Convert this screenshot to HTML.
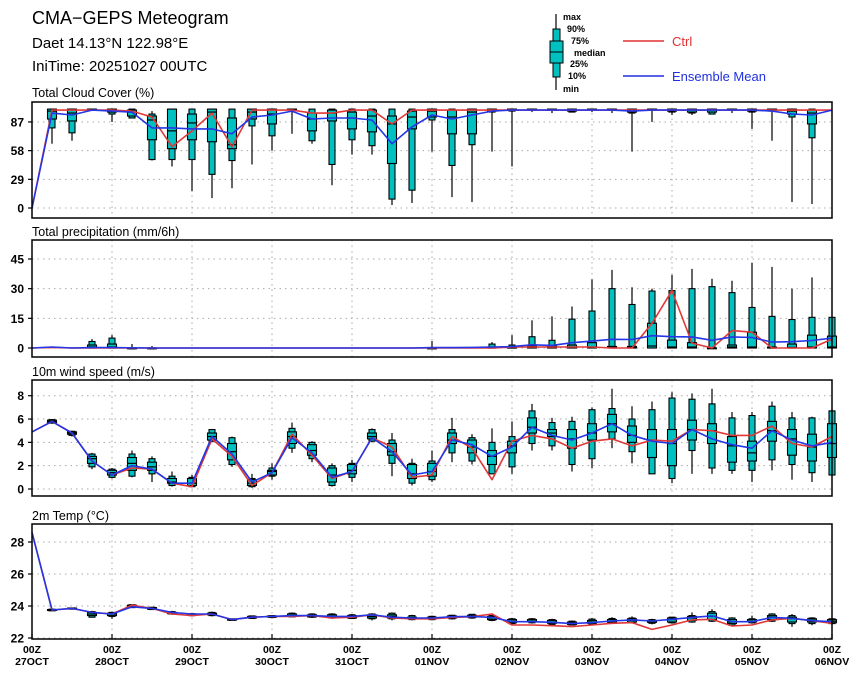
<!DOCTYPE html>
<html><head><meta charset="utf-8"><style>
html,body{margin:0;padding:0;background:#fff;}
svg{display:block;font-family:"Liberation Sans",sans-serif;}
</style></head><body>
<svg id="chart" width="860" height="678" viewBox="0 0 860 678" xmlns="http://www.w3.org/2000/svg">
<text x="32" y="24" font-size="18" fill="#000">CMA−GEPS Meteogram</text>
<text x="32" y="48" font-size="15" fill="#000">Daet 14.13°N 122.98°E</text>
<text x="32" y="71" font-size="15" fill="#000">IniTime: 20251027 00UTC</text>
<g>
<line x1="556" y1="14" x2="556" y2="90" stroke="#000" stroke-width="1.2"/>
<rect x="553" y="29" width="7" height="48" fill="#00c0c0" stroke="#000"/>
<rect x="550" y="41" width="13" height="22" fill="#00c0c0" stroke="#000"/>
<line x1="550" y1="52" x2="563" y2="52" stroke="#000"/>
<g font-size="9" font-weight="bold">
<text x="563" y="20">max</text><text x="567" y="32">90%</text><text x="571" y="44">75%</text>
<text x="574" y="56">median</text><text x="570" y="67">25%</text><text x="568" y="79">10%</text><text x="563" y="92">min</text>
</g>
<line x1="623" y1="41" x2="664" y2="41" stroke="#e03030" stroke-width="1.5"/>
<text x="672" y="46" font-size="13" fill="#e03030">Ctrl</text>
<line x1="623" y1="76" x2="664" y2="76" stroke="#2030e0" stroke-width="1.5"/>
<text x="672" y="81" font-size="13" fill="#2030e0">Ensemble Mean</text>
</g>
</svg>
<script>
// ---- data ----
const dayLabels=["27OCT","28OCT","29OCT","30OCT","31OCT","01NOV","02NOV","03NOV","04NOV","05NOV","06NOV"];
const cloudTicks=[0,29,58,87];
const precipTicks=[0,15,30,45];
const windTicks=[0,2,4,6,8];
const tempTicks=[22,24,26,28];

const cloudCtrl=[0,99,99,99,99,98,92,62,78,96,62,99,99,99,96,96,99,99,85,99,99,99,99,99,99,99,99,99,99,99,99,99,99,99,99,99,99,99,99,99,99];
const cloudMean=[0,96,94,99,98,97,81,81,80,80,75,92,94,98,90,91,91,89,65,82,94,90,94,98,99,99,99,99,99,99,98,99,99,99,99,99,99,98,95,94,99];
const cloudBox=[null,[65,81,90,98,100,100,100],[68,76,88,96,100,100,100],[98,99,99,100,100,100,100],[87,95,97,99,100,100,100],[91,91,93,97,99,100,100],[48,49,69,89,93,95,98],[42,49,60,78,100,100,100],[17,49,69,86,95,100,100],[10,34,67,97,100,100,100],[20,48,60,64,91,100,100],[44,83,90,97,100,100,100],[58,73,85,95,100,100,100],[75,99,100,100,100,100,100],[65,68,78,90,96,100,100],[23,44,88,96,99,100,100],[54,69,80,91,97,100,100],[54,63,77,93,99,100,100],[3,9,45,85,93,100,100],[5,18,80,92,98,100,100],[57,89,92,98,100,100,100],[11,43,75,92,99,100,100],[6,64,75,97,100,100,100],[57,97,98,99,100,100,100],[42,98,99,100,100,100,100],[97,99,100,100,100,100,100],[96,99,100,100,100,100,100],[97,97,98,99,100,100,100],[97,99,100,100,100,100,100],[96,99,100,100,100,100,100],[57,96,97,98,100,100,100],[87,99,100,100,100,100,100],[94,97,98,99,100,100,100],[94,96,97,99,100,100,100],[95,95,97,99,100,100,100],[96,99,100,100,100,100,100],[80,97,98,99,100,100,100],[68,98,99,100,100,100,100],[6,92,95,98,100,100,100],[4,71,85,96,99,100,100],null];

const precipCtrl=[0,0.3,0,0,0,0,0,0,0,0,0,0,0,0,0,0,0,0,0,0,0,0,0,0,0.5,0.5,0.5,0.5,0.5,0,0,12.5,29,2.5,0,8.8,8,0,0,0,4.5];
const precipMean=[0,0.5,0,0.2,0.2,0.1,0,0,0,0,0,0,0,0,0,0,0,0,0,0,0.2,0.2,0.3,0.5,0.7,1.6,1.3,2.7,3.5,4.4,4.3,6.2,5.7,5.6,3.9,5.6,5.3,3,3.2,3.8,5];
const precipBox=[null,null,null,[0,0,0,0.5,1.5,3.3,4.5],[0,0,0,0.5,2,5,6.5],[0,0,0,0,0,0,2],[0,0,0,0,0,0,1],null,null,null,null,null,null,null,null,null,null,null,null,null,[0,0,0,0,0,0,3.5],null,null,[0,0,0,0,0.5,2,3],[0,0,0,0,0.5,1.5,6.5],[0,0,0,0.3,1,5.7,14],[0,0,0,0.3,1,3.9,16],[0,0,0,0.3,1.5,14.6,21],[0,0,0,0.5,2.7,18.7,34.7],[0,0,0,0.2,0.8,30,39.5],[0,0,0,0.2,0.8,22,30.7],[0,0,0,1,12.5,28.8,30],[0,0,0,0.5,4,29,37],[0,0,0,0.5,2.7,30,40],[0,0,0,0,0,31,35],[0,0,0,0.5,1.5,28,34],[0,0,0,0.5,8,20.5,43],[0,0,0,0,0.5,16,41],[0,0,0,0.3,2,14.4,30],[0,0,0,0.5,6.5,15.5,35.7],[0,0,0,0.5,6,15.5,15.5]];

const windCtrl=[4.9,5.8,4.8,2.4,1.2,1.8,1.7,0.5,0.2,4.3,2.8,0.3,1.4,4.7,2.9,0.9,1.5,4.4,3.6,1.0,1.2,4.5,3.5,0.8,4.1,4.6,4.3,3.5,4.1,4.3,3.7,4.2,4.1,5.1,5.0,4.6,4.6,5.4,3.9,3.6,4.5];
const windMean=[4.9,5.8,4.8,2.4,1.2,2.0,1.7,0.5,0.5,4.5,3.0,0.6,1.4,4.4,3.1,1.0,1.5,4.4,3.2,1.2,1.5,4.2,3.8,2.8,3.6,5.3,4.6,4.2,4.8,5.6,4.6,4.1,3.9,5.1,4.3,3.8,3.5,5.0,4.2,3.7,4.0];
const windBox=[null,[5.6,5.65,5.7,5.8,5.9,5.95,6.0],[4.5,4.6,4.7,4.8,4.9,4.95,5.0],[1.7,1.9,2.2,2.6,2.8,3.0,3.1],[0.9,1.0,1.2,1.4,1.6,1.7,1.8],[1.0,1.1,1.6,2.2,2.7,3.0,3.3],[0.6,1.3,1.6,1.9,2.3,2.6,2.8],[0.2,0.3,0.5,0.6,0.9,1.1,1.5],[0.2,0.2,0.3,0.5,0.9,1.0,1.2],[4.0,4.1,4.2,4.5,4.8,5.1,5.1],[1.9,2.1,2.5,3.2,3.9,4.4,4.5],[0.1,0.2,0.3,0.5,0.8,0.9,1.3],[0.8,1.1,1.2,1.5,1.6,1.8,2.2],[3.1,3.5,3.9,4.5,4.9,5.2,5.7],[2.3,2.6,2.9,3.3,3.8,4.0,4.1],[0.2,0.3,0.6,1.2,1.8,2.0,2.2],[0.6,1.0,1.3,1.6,2.1,2.2,2.5],[4.0,4.1,4.3,4.5,4.8,5.1,5.2],[1.1,2.2,2.9,3.2,3.9,4.2,4.8],[0.3,0.5,0.9,1.3,2.1,2.2,2.6],[0.6,0.8,1.1,1.5,2.2,2.4,3.3],[2.3,3.1,3.9,4.2,4.8,5.1,6.1],[2.1,2.4,3.1,3.6,4.2,4.4,4.7],[1.3,1.3,2.1,2.8,3.3,4.0,5.2],[1.3,1.9,3.1,3.7,4.1,4.5,5.8],[3.3,3.9,4.8,5.3,6.1,6.7,7.3],[3.3,3.7,4.5,4.8,5.1,5.7,6.1],[1.5,2.1,3.5,4.3,5.1,5.8,6.2],[1.8,2.6,4.2,4.8,5.6,6.8,7.0],[3.5,4.3,4.9,5.6,6.4,6.9,8.6],[2.2,3.2,4.0,4.6,5.4,6.0,7.1],[1.3,1.3,2.7,4.2,5.1,6.8,7.5],[0.5,0.9,2.0,3.9,5.1,7.8,8.3],[1.3,3.3,4.2,5.1,5.9,7.7,8.2],[1.3,1.8,3.9,5.0,5.6,7.3,8.6],[1.3,1.6,2.3,3.7,4.5,6.1,6.6],[0.6,1.6,2.4,3.1,4.1,6.3,6.6],[1.6,2.5,4.1,5.0,5.8,7.1,7.5],[0.8,2.1,2.9,4.3,5.1,6.1,6.6],[0.6,1.4,2.4,3.6,4.7,6.1,6.2],[1.2,1.2,2.7,3.9,5.6,6.7,6.8]];

const tempCtrl=[28.6,23.75,23.85,23.6,23.5,24.05,23.85,23.5,23.4,23.5,23.15,23.3,23.35,23.35,23.4,23.25,23.3,23.45,23.25,23.2,23.2,23.29,23.33,23.5,22.81,22.81,22.77,22.71,22.81,22.92,22.96,22.54,22.81,23.13,23.17,22.75,22.81,23.13,23.23,23.08,22.92];
const tempMean=[28.6,23.75,23.85,23.6,23.5,23.95,23.85,23.6,23.5,23.5,23.15,23.3,23.35,23.4,23.4,23.35,23.35,23.45,23.3,23.25,23.25,23.33,23.35,23.29,23.02,23.02,22.98,22.9,22.96,23.06,23.13,23.06,23.17,23.29,23.38,23.02,23.02,23.29,23.23,23.08,23.02];
const tempBox=[null,[23.7,23.7,23.72,23.75,23.78,23.8,23.82],[23.8,23.8,23.82,23.85,23.87,23.88,23.9],[23.3,23.3,23.4,23.5,23.6,23.65,23.7],[23.2,23.35,23.4,23.5,23.55,23.6,23.65],[23.9,23.9,23.95,24.0,24.05,24.08,24.1],[23.75,23.78,23.8,23.85,23.9,23.92,23.95],[23.45,23.5,23.52,23.55,23.6,23.65,23.7],[23.35,23.4,23.42,23.45,23.5,23.52,23.55],[23.35,23.4,23.45,23.5,23.55,23.6,23.65],[23.1,23.1,23.12,23.15,23.18,23.2,23.2],[23.2,23.22,23.25,23.3,23.35,23.38,23.4],[23.25,23.28,23.3,23.35,23.38,23.4,23.42],[23.3,23.32,23.35,23.4,23.5,23.55,23.6],[23.25,23.3,23.32,23.38,23.45,23.5,23.55],[23.2,23.25,23.28,23.35,23.45,23.5,23.55],[23.2,23.22,23.25,23.3,23.4,23.45,23.5],[23.1,23.2,23.25,23.35,23.45,23.5,23.55],[23.1,23.2,23.25,23.35,23.45,23.55,23.6],[23.1,23.15,23.2,23.25,23.3,23.4,23.45],[23.1,23.15,23.2,23.25,23.3,23.35,23.4],[23.15,23.2,23.25,23.3,23.38,23.42,23.45],[23.2,23.25,23.3,23.35,23.42,23.48,23.5],[23.05,23.1,23.15,23.25,23.35,23.4,23.45],[22.85,22.9,22.95,23.05,23.15,23.2,23.25],[22.9,22.95,23.0,23.05,23.15,23.2,23.25],[22.8,22.85,22.92,23.0,23.1,23.15,23.2],[22.8,22.82,22.85,22.92,23.0,23.05,23.1],[22.8,22.85,22.92,23.0,23.1,23.18,23.25],[22.9,22.92,22.98,23.05,23.15,23.22,23.3],[22.9,22.95,23.0,23.1,23.2,23.25,23.35],[22.85,22.92,22.98,23.05,23.1,23.15,23.2],[22.9,22.95,23.0,23.15,23.25,23.3,23.3],[22.95,23.0,23.1,23.25,23.35,23.4,23.6],[23.0,23.05,23.15,23.35,23.55,23.65,23.8],[22.75,22.8,22.9,23.0,23.15,23.25,23.3],[22.9,22.95,23.0,23.05,23.15,23.2,23.4],[23.0,23.05,23.15,23.3,23.4,23.5,23.55],[22.7,22.9,23.0,23.2,23.3,23.4,23.5],[22.8,22.9,23.0,23.1,23.2,23.25,23.3],[22.85,22.9,22.95,23.05,23.15,23.2,23.25]];

// ---- rendering ----
const NS="http://www.w3.org/2000/svg";
const svg=document.getElementById('chart');
const X0=32,X1=832,STEP=20;
function xPos(i){return X0+i*STEP;}
function mk(tag,attrs,parent){const e=document.createElementNS(NS,tag);for(const k in attrs)e.setAttribute(k,attrs[k]);(parent||svg).appendChild(e);return e;}

const panels=[
 {name:'cloud-cover',title:'Total Cloud Cover (%)',top:102,bot:218,titleY:97,v0:0,y0:208,k:0.989,ticks:cloudTicks,ctrl:cloudCtrl,mean:cloudMean,box:cloudBox},
 {name:'precipitation',title:'Total precipitation (mm/6h)',top:240,bot:357,titleY:236,v0:0,y0:348,k:1.978,ticks:precipTicks,ctrl:precipCtrl,mean:precipMean,box:precipBox},
 {name:'wind-speed',title:'10m wind speed (m/s)',top:380,bot:496,titleY:376,v0:0,y0:489,k:11.66,ticks:windTicks,ctrl:windCtrl,mean:windMean,box:windBox},
 {name:'temperature',title:'2m Temp (°C)',top:524,bot:639,titleY:520,v0:22,y0:638,k:16,ticks:tempTicks,ctrl:tempCtrl,mean:tempMean,box:tempBox}
];

panels.forEach((p,pi)=>{
 const yPos=v=>p.y0-(v-p.v0)*p.k;
 const g=mk('g',{});
 
 
 const t=mk('text',{x:32,y:p.titleY,'font-size':12.5},g);t.textContent=p.title;
 
 
 // grid
 for(let d=1;d<dayLabels.length-1;d++){
  const gl=mk('line',{x1:X0+d*80,x2:X0+d*80,y1:p.top,y2:p.bot,stroke:'#aaa','stroke-dasharray':'1.5,4','stroke-width':1},g);
  
  
 }
 p.ticks.forEach(tv=>{
  const y=yPos(tv);
  const hl=mk('line',{x1:X0,x2:X1,y1:y,y2:y,stroke:'#aaa','stroke-dasharray':'1.5,4','stroke-width':1},g);
  
  
  mk('line',{x1:X0-4,x2:X0,y1:y,y2:y,stroke:'#000','stroke-width':1.2},g);
  const lb=mk('text',{x:24,y:y+4.5,'font-size':12,'font-weight':'bold','text-anchor':'end'},g);
  lb.textContent=tv;
  
  
 });
 // boxes
 p.box.forEach((b,i)=>{
  if(!b)return;
  const x=xPos(i);
  const bg=mk('g',{},g);
  
  
  mk('line',{x1:x,x2:x,y1:yPos(b[0]),y2:yPos(b[6]),stroke:'#000','stroke-width':1.2},bg);
  const h1=Math.max(yPos(b[1])-yPos(b[5]),0.8);
  mk('rect',{x:x-3,y:yPos(b[5]),width:6,height:h1,fill:'#00c0c0',stroke:'#000','stroke-width':1.1},bg);
  const h2=Math.max(yPos(b[2])-yPos(b[4]),0.8);
  mk('rect',{x:x-4.5,y:yPos(b[4]),width:9,height:h2,fill:'#00c0c0',stroke:'#000','stroke-width':1.1},bg);
  mk('line',{x1:x-4.5,x2:x+4.5,y1:yPos(b[3]),y2:yPos(b[3]),stroke:'#000','stroke-width':1.2},bg);
 });
 // lines
 const pts=a=>a.map((v,i)=>xPos(i)+','+yPos(v).toFixed(1)).join(' ');
 const cl=mk('polyline',{points:pts(p.ctrl),fill:'none',stroke:'#e03838','stroke-width':1.6,'stroke-linejoin':'round'},g);
 
 
 const ml=mk('polyline',{points:pts(p.mean),fill:'none',stroke:'#2436e6','stroke-width':1.6,'stroke-linejoin':'round'},g);
 
 
 // frame
 const fr=mk('rect',{x:X0,y:p.top,width:X1-X0,height:p.bot-p.top,fill:'none',stroke:'#000','stroke-width':1.5},g);
 
 
 if(pi===3){
  dayLabels.forEach((d,k)=>{
   const x=X0+k*80;
   mk('line',{x1:x,x2:x,y1:p.bot,y2:p.bot-5,stroke:'#000','stroke-width':1.2},g);
   const a=mk('text',{x:x,y:p.bot+14,'font-size':10.5,'font-weight':'bold','text-anchor':'middle'},g);
   a.textContent='00Z';
   
   
   const b=mk('text',{x:x,y:p.bot+26,'font-size':10.5,'font-weight':'bold','text-anchor':'middle'},g);
   b.textContent=d;
   
   
  });
 }
});
</script>
</body></html>
